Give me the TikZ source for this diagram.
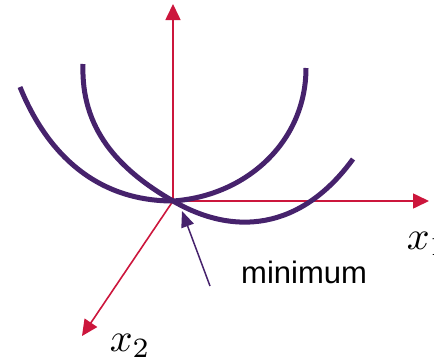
\documentclass[tikz,border=0pt]{standalone}
\usepackage{fontspec}
\newfontfamily\labelfont{Liberation Sans}
\usetikzlibrary{arrows.meta}
\definecolor{axisred}{RGB}{204,22,60}
\definecolor{bowlpurple}{RGB}{70,34,108}
\begin{document}
\begin{tikzpicture}[x=1pt,y=-1pt,>={Triangle[length=16pt,width=15pt]}]
\useasboundingbox (0,0) rectangle (434,364);
\coordinate (O) at (173,201);
\coordinate (X) at (429,201);
\coordinate (Y) at (173,4);
\coordinate (Z) at (82,336);
\coordinate (m) at (182,211);
\coordinate (mt) at (210,286);
\draw[->,line width=1.6pt,axisred](O)--(X);
\draw[->,line width=1.6pt,axisred](O)--(Y);
\draw[->,line width=1.6pt,axisred](O)--(Z);
\node[anchor=base west,inner sep=0pt,scale=4] (x1) at (406,249) {$x_1$};
\node[anchor=base west,inner sep=0pt,scale=4] (x2) at (109,351) {$x_2$};
% the two bowls
\draw[line width=5pt,bowlpurple] (20,87) to[out=-68,in=180] (O) to[out=4,in=-90] (306,68);
\draw[line width=5pt,bowlpurple] (83,64) to[out=-92,in=150] (O) to[out=-30,in=-126,looseness=1.1] (353,159);
\draw[->,line width=1.5pt,bowlpurple,>={Triangle[length=16pt,width=13pt]}](mt)--(m);
\node[anchor=base west,inner sep=0pt,font=\labelfont\fontsize{31}{36}\selectfont] (min) at (241,283) {minimum};
\end{tikzpicture}
\end{document}
